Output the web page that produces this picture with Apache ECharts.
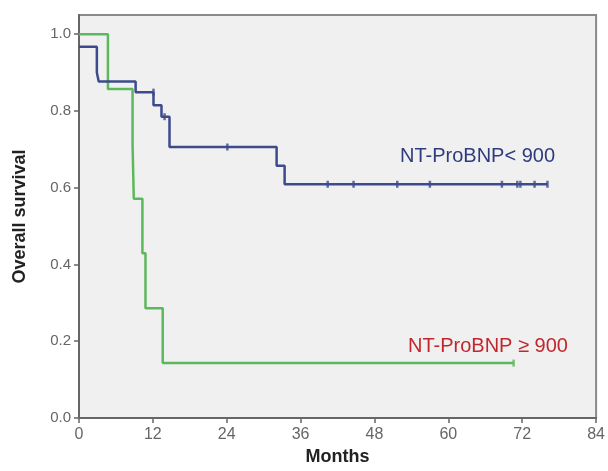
<!DOCTYPE html>
<html>
<head>
<meta charset="utf-8">
<script src="https://cdn.jsdelivr.net/npm/echarts@6/dist/echarts.min.js"></script>
<style>
  html, body { margin: 0; padding: 0; background: #fff; }
  #main { width: 608px; height: 471px; }
</style>
</head>
<body>
<div id="main"></div>
<script>
// Kaplan-Meier steps: [months, survival]
var lowSteps = [[0, 0.967], [2.9, 0.90], [3.2, 0.877], [9.2, 0.849], [12.1, 0.815],
  [13.4, 0.785], [14.7, 0.706], [32.1, 0.657], [33.4, 0.609], [76.1, 0.609]];
var lowCensored = [[12.1, 0.849], [13.9, 0.785], [24.1, 0.706], [40.4, 0.609], [44.6, 0.609],
  [51.7, 0.609], [57.0, 0.609], [68.7, 0.609], [71.2, 0.609], [71.7, 0.609], [74.0, 0.609], [76.1, 0.609]];
var highSteps = [[0, 1.0], [4.7, 0.857], [8.7, 0.714], [8.9, 0.571], [10.3, 0.429],
  [10.8, 0.286], [13.6, 0.143], [70.6, 0.143]];
var highCensored = [[70.6, 0.143]];
var xTicks = [0, 12, 24, 36, 48, 60, 72, 84];
var yTicks = [0, 0.2, 0.4, 0.6, 0.8, 1.0];

var blue = '#3d4a8c';
var green = '#5cb85c';

var chart = echarts.init(document.getElementById('main'));
chart.setOption({
  animation: false,
  grid: {
    left: 79, right: 7, top: 15, bottom: 46,
    show: true,
    backgroundColor: '#f0f0f0',
    borderColor: '#8a8a8a',
    borderWidth: 2
  },
  xAxis: {
    type: 'value',
    min: 0, max: 84, interval: 12,
    name: 'Months',
    nameLocation: 'middle',
    nameGap: 30,
    nameTextStyle: { fontFamily: 'Liberation Sans', fontWeight: 'bold', fontSize: 18, color: '#222' },
    axisLine: { show: true, lineStyle: { color: '#666', width: 2 } },
    axisTick: { show: true, length: 5, lineStyle: { color: '#666', width: 1.5 } },
    axisLabel: {
      fontFamily: 'Liberation Sans', fontSize: 16, color: '#666', margin: 9,
      formatter: function (v) { return xTicks.indexOf(v) >= 0 ? String(v) : ''; }
    },
    splitLine: { show: false }
  },
  yAxis: {
    type: 'value',
    min: 0, max: 1.05, interval: 0.2,
    name: 'Overall survival',
    nameLocation: 'middle',
    nameGap: 50,
    nameTextStyle: { fontFamily: 'Liberation Sans', fontWeight: 'bold', fontSize: 18, color: '#222' },
    axisLine: { show: true, lineStyle: { color: '#666', width: 2 } },
    axisTick: { show: true, length: 5, lineStyle: { color: '#666', width: 1.5 } },
    axisLabel: {
      fontFamily: 'Liberation Sans', fontSize: 15, color: '#666', margin: 8,
      showMaxLabel: false,
      formatter: function (v) {
        for (var i = 0; i < yTicks.length; i++) {
          if (Math.abs(yTicks[i] - v) < 1e-6) return yTicks[i].toFixed(1);
        }
        return '';
      }
    },
    splitLine: { show: false }
  },
  series: [
    {
      name: 'NT-ProBNP< 900', type: 'line', step: 'end', data: lowSteps,
      symbol: 'none', lineStyle: { color: blue, width: 2.5 }, z: 3
    },
    {
      name: 'NT-ProBNP ≥ 900', type: 'line', step: 'end', data: highSteps,
      symbol: 'none', lineStyle: { color: green, width: 2.5 }, z: 2
    },
    {
      type: 'scatter', data: lowCensored, symbol: 'rect', symbolSize: [2.5, 7],
      itemStyle: { color: blue }, z: 4
    },
    {
      type: 'scatter', data: highCensored, symbol: 'rect', symbolSize: [2.5, 7],
      itemStyle: { color: green }, z: 4
    }
  ],
  graphic: [
    {
      type: 'text', left: 400, top: 146,
      style: { text: 'NT-ProBNP< 900', fill: '#2f3b7d', font: '20px "Liberation Sans"' }
    },
    {
      type: 'text', left: 408, top: 336,
      style: { text: 'NT-ProBNP ≥ 900', fill: '#c1272d', font: '20px "Liberation Sans"' }
    }
  ]
});
</script>
</body>
</html>
